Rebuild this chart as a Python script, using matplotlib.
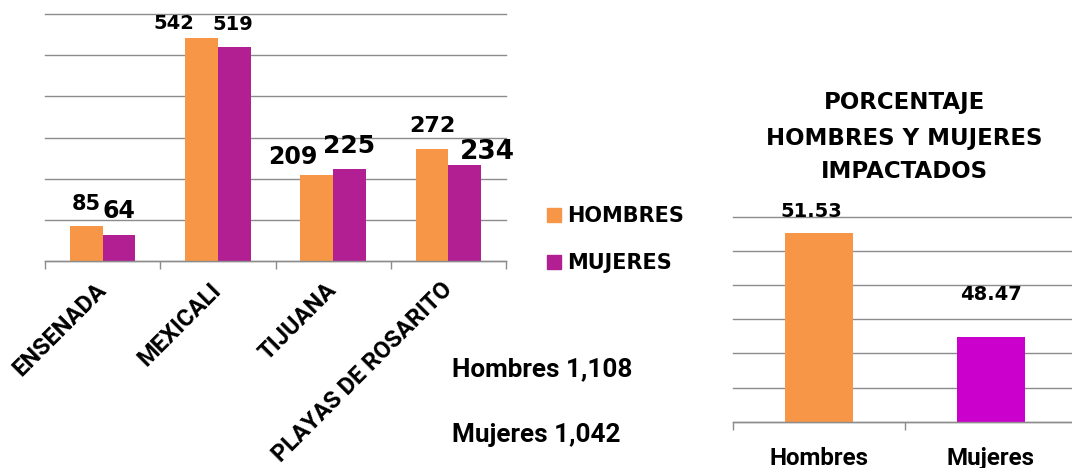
import matplotlib
matplotlib.use("Agg")
import matplotlib.pyplot as plt
from matplotlib.patches import Patch
from matplotlib.transforms import blended_transform_factory
import numpy as np

# ---------------- data ----------------
municipios = ["ENSENADA", "MEXICALI", "TIJUANA", "PLAYAS DE ROSARITO"]
hombres = [85, 542, 209, 272]
mujeres = [64, 519, 225, 234]
series_names = ["HOMBRES", "MUJERES"]
left_yticks = [0, 100, 200, 300, 400, 500, 600]

pct_categories = ["Hombres", "Mujeres"]
pct_values = [51.53, 48.47]
right_yticks = [46, 47, 48, 49, 50, 51, 52]
pct_title_lines = ["PORCENTAJE", "HOMBRES Y MUJERES", "IMPACTADOS"]

totals_text = ["Hombres 1,108", "Mujeres 1,042"]

# ---------------- layout / style ----------------
W, H = 1072, 468
DPI = 100
PX2PT = 72.0 / DPI
ORANGE = "#F79646"
PURPLE = "#B11F93"
MAGENTA = "#CC00CC"
GRID = "#8C8C8C"
GOTHIC = "DejaVu Sans"
CAL = "Roboto"

# label offsets (dx px, gap above bar px) and font sizes, per bar
h_offsets = [(0, 16), (-28, 9), (-24, 11), (0, 17)]
m_offsets = [(0, 17), (-1, 17), (0, 16), (23, 6)]
h_sizes = [15, 14, 17, 16]
m_sizes = [17, 14, 18, 19]
pct_offsets = [(-8, 16), (0, 37)]

fig = plt.figure(figsize=(W / DPI, H / DPI), dpi=DPI)


def style_axes(ax, boundaries):
    ax.set_axisbelow(True)
    ax.yaxis.grid(True, color=GRID, lw=1.0)
    for gl in ax.get_ygridlines():
        gl.set_clip_on(False)
    for s in ("top", "left", "right"):
        ax.spines[s].set_visible(False)
    ax.spines["bottom"].set_color(GRID)
    ax.spines["bottom"].set_linewidth(1.0)
    ax.tick_params(axis="y", length=0, labelleft=False)
    ax.set_xticks(boundaries, minor=True)
    ax.tick_params(axis="x", which="minor", length=6, width=1.0, color=GRID)
    ax.tick_params(axis="x", which="major", length=0)


# ---------------- left chart ----------------
ax1 = fig.add_axes([45 / W, (H - 261.3) / H, 461 / W, 247.3 / H])
x = np.arange(len(municipios))
bw = 0.284
b1 = ax1.bar(x - bw / 2, hombres, bw, color=ORANGE)
b2 = ax1.bar(x + bw / 2, mujeres, bw, color=PURPLE)
ax1.set_xlim(-0.5, len(municipios) - 0.5)
ax1.set_ylim(left_yticks[0], left_yticks[-1])
ax1.set_yticks(left_yticks)
style_axes(ax1, np.arange(-0.5, len(municipios), 1.0))
ax1.set_xticks(x)
ax1.set_xticklabels(municipios, rotation=45, ha="right", va="center",
                    rotation_mode="anchor", fontfamily=CAL,
                    fontweight="bold", fontsize=17)
ax1.tick_params(axis="x", which="major", pad=25 * PX2PT)

for bars, vals, offs, sizes in ((b1, hombres, h_offsets, h_sizes),
                                (b2, mujeres, m_offsets, m_sizes)):
    for bar, v, (dx, dy), fs in zip(bars, vals, offs, sizes):
        ax1.annotate(str(v), xy=(bar.get_x() + bar.get_width() / 2, v),
                     xytext=(dx * PX2PT, dy * PX2PT), textcoords="offset points",
                     ha="center", va="baseline", fontsize=fs,
                     fontweight="bold", family=GOTHIC, color="black")

fig.legend(handles=[Patch(color=ORANGE), Patch(color=PURPLE)],
           labels=series_names, loc="upper left",
           bbox_to_anchor=(546.7 / W, (H - 206) / H), frameon=False,
           prop=dict(family=GOTHIC, weight="bold", size=15),
           handlelength=0.67, handleheight=0.67, handletextpad=0.3,
           labelspacing=1.3, borderpad=0, borderaxespad=0)

for i, t in enumerate(totals_text):
    fig.text(451.7 / W, (H - [376.7, 441.7][i]) / H, t, va="baseline",
             ha="left", family=CAL, weight="bold", fontsize=18.8)

# ---------------- right chart ----------------
ax2 = fig.add_axes([733 / W, (H - 421.7) / H, 344 / W, 205 / H])
xr = np.arange(len(pct_categories))
b3 = ax2.bar(xr, pct_values, 0.4, color=[ORANGE, MAGENTA])
ax2.set_xlim(-0.5, len(pct_categories) - 0.5)
ax2.set_ylim(right_yticks[0], right_yticks[-1])
ax2.set_yticks(right_yticks)
style_axes(ax2, np.arange(-0.5, len(pct_categories), 1.0))
ax2.set_xticks(xr)
ax2.set_xticklabels([])

for bar, v, (dx, dy) in zip(b3, pct_values, pct_offsets):
    ax2.annotate(f"{v:.2f}", xy=(bar.get_x() + bar.get_width() / 2, v),
                 xytext=(dx * PX2PT, dy * PX2PT), textcoords="offset points",
                 ha="center", va="baseline", fontsize=14,
                 fontweight="bold", family=GOTHIC, color="black")

trans = blended_transform_factory(ax2.transData, fig.transFigure)
for i, c in enumerate(pct_categories):
    ax2.text(xr[i], 0.006, c, transform=trans, ha="center", va="baseline",
             family=CAL, weight="bold", fontsize=17.4, clip_on=False)

for line, yb in zip(pct_title_lines, [109.3, 145, 177.7]):
    fig.text(904 / W, (H - yb) / H, line, ha="center", va="baseline",
             family=GOTHIC, weight="bold", fontsize=16.5)

fig.savefig("out.png", dpi=DPI)
